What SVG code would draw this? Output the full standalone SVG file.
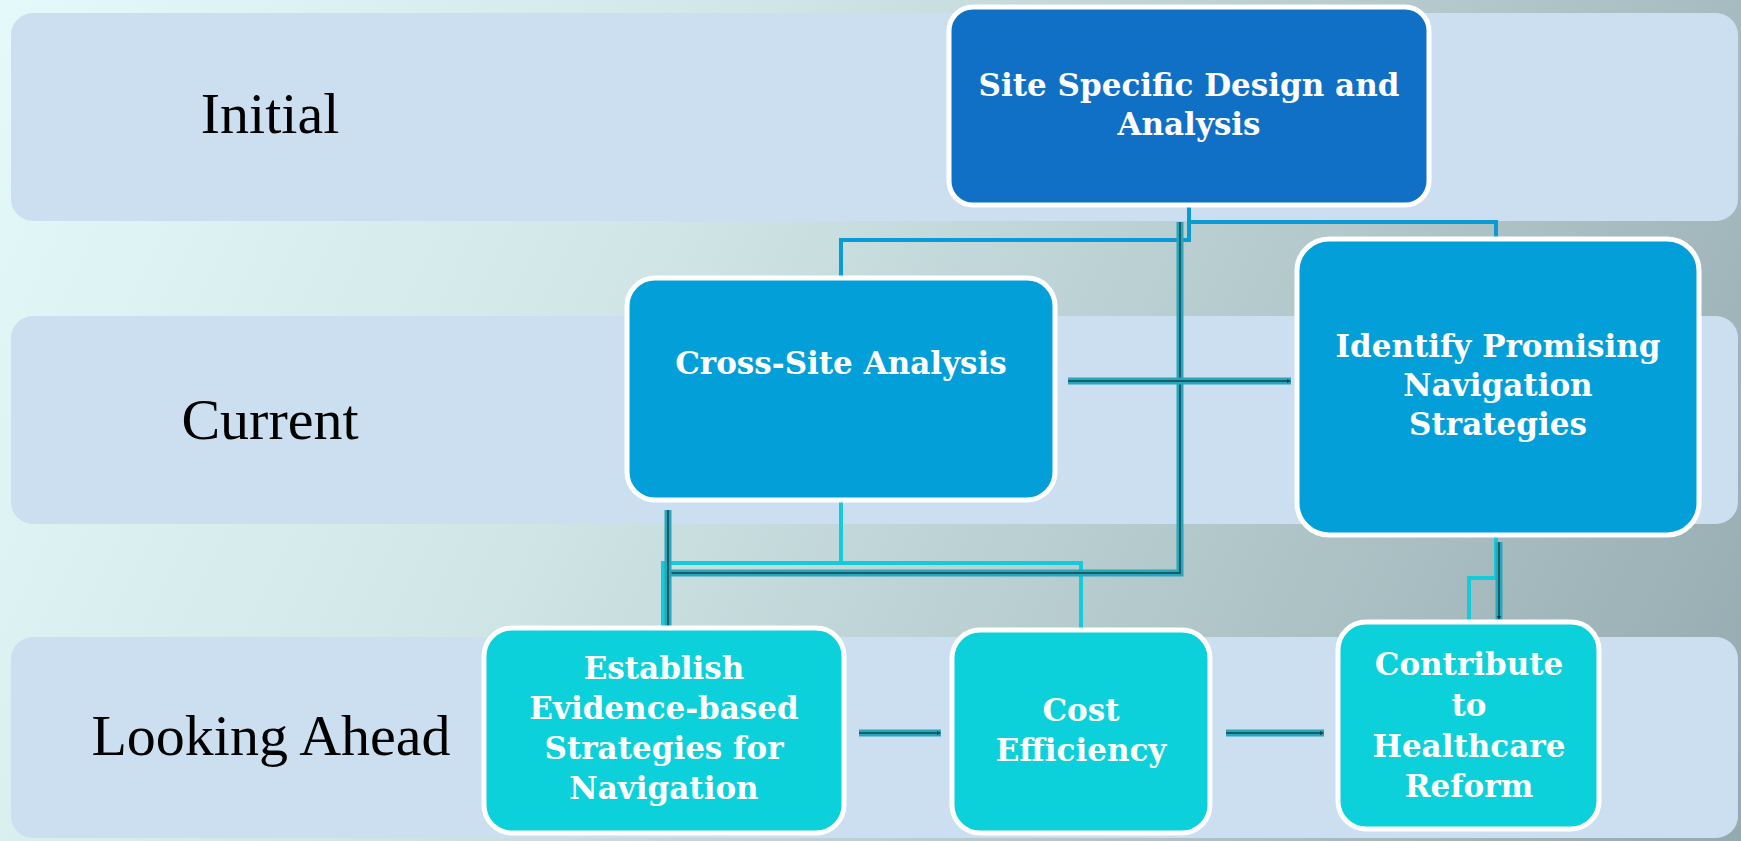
<svg xmlns="http://www.w3.org/2000/svg" width="1741" height="841" viewBox="0 0 1741 841">
<defs>
<linearGradient id="bg" x1="0" y1="0" x2="1741" y2="841" gradientUnits="userSpaceOnUse">
<stop offset="0" stop-color="#e4f9fa"/>
<stop offset="0.35" stop-color="#d0e6e7"/>
<stop offset="0.7" stop-color="#b1c6c9"/>
<stop offset="1" stop-color="#93aab0"/>
</linearGradient>
<marker id="tip" markerWidth="4" markerHeight="4" refX="2" refY="2" orient="auto" markerUnits="userSpaceOnUse" viewBox="0 0 4 4">
<path d="M0,0 L4,2 L0,4 Z" fill="#0d3f48"/>
</marker>
<style>
.band{fill:#cbdff0;}
.lane{font-family:"Liberation Serif","Times New Roman",serif;font-size:58px;fill:#000;text-anchor:middle;}
.node{stroke:#ffffff;stroke-width:5;}
.n1{fill:#1070c6;}
.n2{fill:#039fd8;}
.n3{fill:#0cd1da;}
.t{font-family:"DejaVu Serif","Liberation Serif",serif;font-size:31px;font-weight:bold;fill:#ffffff;text-anchor:middle;}
.blue{fill:none;stroke:#0a9bd6;stroke-width:4;}
.cyan{fill:none;stroke:#14cbd9;stroke-width:4;}
.bev{fill:none;stroke:#2aa6ba;stroke-width:7;}
.bevc{fill:none;stroke:#145f6d;stroke-width:2;}
</style>
</defs>
<rect x="0" y="0" width="1741" height="841" fill="url(#bg)"/>
<g id="lanes">
<rect class="band" x="11" y="13" width="1727" height="208" rx="22"/>
<rect class="band" x="11" y="316" width="1727" height="208" rx="22"/>
<rect class="band" x="11" y="637" width="1727" height="201" rx="22"/>
<text class="lane" x="270" y="133">Initial</text>
<text class="lane" x="270" y="439">Current</text>
<text class="lane" x="271" y="755">Looking Ahead</text>
</g>
<g id="connectors">
<path class="blue" d="M1189 205 V240 H841 V278"/>
<path class="blue" d="M1189 222 H1496 V239"/>
<path class="cyan" d="M841 500 V563 H663 V637"/>
<path class="cyan" d="M841 563 H1081 V630"/>
<path class="cyan" d="M1496 535 V578 H1469 V622"/>
<path class="bev" d="M1180 222 V573 H668"/>
<path class="bevc" d="M1180 222 V573 H668" marker-end="url(#tip)"/>
<path class="bev" d="M668 510 V636"/>
<path class="bevc" d="M668 510 V634" marker-end="url(#tip)"/>
<path class="bev" d="M1068 381 H1291"/>
<path class="bevc" d="M1068 381 H1289" marker-end="url(#tip)"/>
<path class="bev" d="M1499 542 V620"/>
<path class="bevc" d="M1499 542 V618" marker-end="url(#tip)"/>
<path class="bev" d="M859 733 H941"/>
<path class="bevc" d="M859 733 H939" marker-end="url(#tip)"/>
<path class="bev" d="M1226 733 H1324"/>
<path class="bevc" d="M1226 733 H1322" marker-end="url(#tip)"/>
</g>
<g id="node-site">
<rect class="node n1" x="949" y="7" width="480" height="198" rx="24"/>
<text class="t" x="1189" y="96">Site Specific Design and</text>
<text class="t" x="1189" y="135">Analysis</text>
</g>
<g id="node-cross">
<rect class="node n2" x="627" y="278" width="428" height="222" rx="28"/>
<text class="t" x="841" y="374">Cross-Site Analysis</text>
</g>
<g id="node-identify">
<rect class="node n2" x="1297" y="239" width="402" height="296" rx="32"/>
<text class="t" x="1498" y="357">Identify Promising</text>
<text class="t" x="1498" y="396">Navigation</text>
<text class="t" x="1498" y="435">Strategies</text>
</g>
<g id="node-establish">
<rect class="node n3" x="484" y="628" width="360" height="205" rx="28"/>
<text class="t" x="664" y="679">Establish</text>
<text class="t" x="664" y="719">Evidence-based</text>
<text class="t" x="664" y="759">Strategies for</text>
<text class="t" x="664" y="799">Navigation</text>
</g>
<g id="node-cost">
<rect class="node n3" x="952" y="630" width="258" height="203" rx="28"/>
<text class="t" x="1081" y="721">Cost</text>
<text class="t" x="1081" y="761">Efficiency</text>
</g>
<g id="node-contribute">
<rect class="node n3" x="1338" y="622" width="261" height="207" rx="28"/>
<text class="t" x="1469" y="675">Contribute</text>
<text class="t" x="1469" y="716">to</text>
<text class="t" x="1469" y="757">Healthcare</text>
<text class="t" x="1469" y="797">Reform</text>
</g>
</svg>
